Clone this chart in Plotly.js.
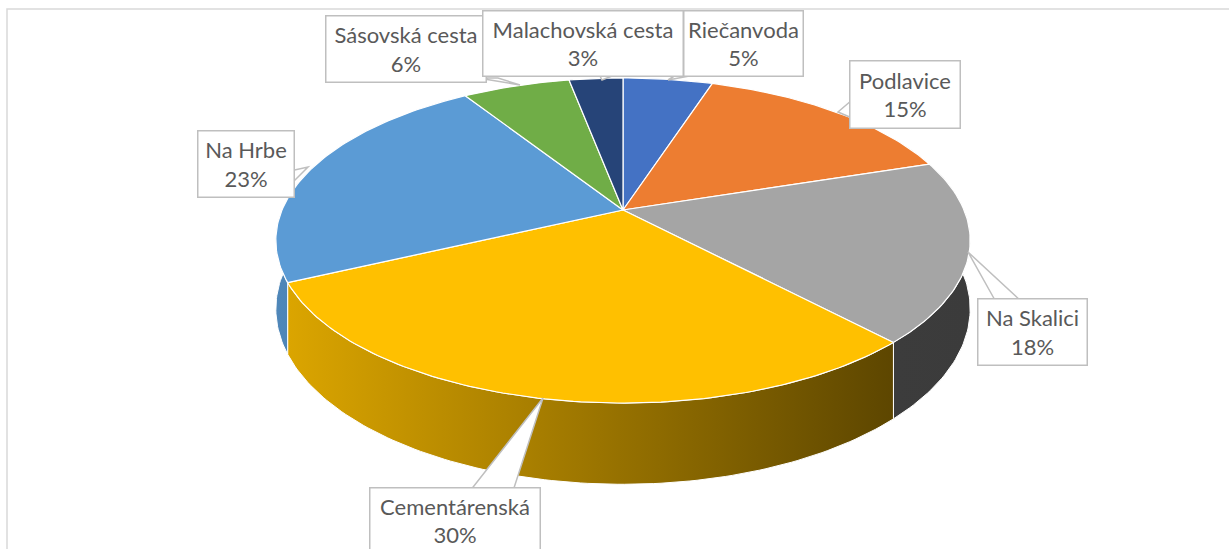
<!DOCTYPE html>
<html>
<head>
<meta charset="utf-8">
<script src="https://cdn.plot.ly/plotly-3.0.1.min.js"></script>
<style>html,body{margin:0;padding:0;background:#fff;}#chart{width:1229px;height:549px;}</style>
</head>
<body>
<div id="chart"></div>
<script>
// ---- data ----
const labels = ['Riečanvoda','Podlavice','Na Skalici','Cementárenská','Na Hrbe','Sásovská cesta','Malachovská cesta'];
const values = [5, 15, 18, 30, 23, 6, 3];
const colors = ['#4472C4','#ED7D31','#A5A5A5','#FFC000','#5B9BD5','#70AD47','#264478'];

// ---- 3D pie geometry (pixel space) ----
const CX = 623, CY = 210, RX = 341, RY = 156.8, P = 0.1877, DEPTH = 66;
function proj(deg, drop) {
  const t = deg * Math.PI / 180;
  const u = Math.sin(t), v = Math.cos(t);
  const s = 1 / (1 + P * v);
  return [CX + RX * u * s, CY - RY * v * s + drop * s];
}
function hexToRgb(h){h=h.replace('#','');return [parseInt(h.substr(0,2),16),parseInt(h.substr(2,2),16),parseInt(h.substr(4,2),16)];}
function shade(hex, f){const c=hexToRgb(hex);return 'rgb('+c.map(v=>Math.round(Math.min(255,v*f))).join(',')+')';}
function lightAt(x){const f=0.87-(x-275)/(900-275)*0.51;return Math.max(0.36,Math.min(0.9,f));}

const total = values.reduce((a,b)=>a+b,0);
const sideTraces = [], topTraces = [];
let cum = 0;
values.forEach((val, i) => {
  const a0 = cum / total * 360, a1 = (cum + val) / total * 360;
  cum += val;
  const pct = Math.round(val / total * 100) + '%';
  // top face
  const tx = [CX], ty = [CY];
  const n = Math.max(2, Math.ceil(a1 - a0));
  for (let k = 0; k <= n; k++) { const p = proj(a0 + (a1 - a0) * k / n, 0); tx.push(p[0]); ty.push(p[1]); }
  tx.push(CX); ty.push(CY);
  topTraces.push({type:'scatter', mode:'lines', x:tx, y:ty, fill:'toself', fillcolor:colors[i],
    line:{color:'#ffffff', width:1.2}, name:labels[i], text:labels[i]+' '+pct, hoverinfo:'text', showlegend:false});
  // side wall (front part)
  const s0 = Math.max(a0, 60), s1 = Math.min(a1, 300);
  if (s1 > s0) {
    const sx = [], sy = [];
    const m = Math.max(2, Math.ceil(s1 - s0));
    for (let k = 0; k <= m; k++) { const p = proj(s0 + (s1 - s0) * k / m, 0); sx.push(p[0]); sy.push(p[1]); }
    for (let k = m; k >= 0; k--) { const p = proj(s0 + (s1 - s0) * k / m, DEPTH); sx.push(p[0]); sy.push(p[1]); }
    sx.push(sx[0]); sy.push(sy[0]);
    const xmin = Math.min(...sx), xmax = Math.max(...sx);
    sideTraces.push({type:'scatter', mode:'lines', x:sx, y:sy, fill:'toself',
      fillcolor: shade(colors[i], lightAt((xmin+xmax)/2)),
      fillgradient:{type:'horizontal', colorscale:[[0, shade(colors[i], lightAt(xmin))],[1, shade(colors[i], lightAt(xmax))]]},
      line:{color:'#ffffff', width:1}, text:labels[i]+' '+pct, hoverinfo:'text', showlegend:false});
  }
});

// ---- callout labels (box center, size, wedge base points, tip) ----
const callouts = [
  {cx:743,   cy:43,    w:120, h:66, b:[[684,70],[700,74]], tip:[668,80]},
  {cx:904.5, cy:94,    w:111, h:68, b:[[852,100],[852,118]], tip:[838,112]},
  {cx:1032,  cy:331.5, w:110, h:67, b:[[996,302],[1022,302]], tip:[968,252]},
  {cx:454.5, cy:520,   w:171, h:66, b:[[470,491],[513,491]], tip:[543,398]},
  {cx:245.5, cy:163.5, w:97,  h:67, b:[[290,171],[290,185]], tip:[308,167]},
  {cx:405.5, cy:48.5,  w:161, h:67, b:[[478,78],[498,78]], tip:[520,85]},
  {cx:582.5, cy:43,    w:201, h:66, b:[[598,72],[622,72]], tip:[602,80]}
];
const shapes = [{type:'rect', xref:'x', yref:'y', x0:7, y0:9, x1:1240, y1:560,
  line:{color:'#D9D9D9', width:1.5}, fillcolor:'rgba(0,0,0,0)', layer:'below'}];
const annotations = [];
callouts.forEach((c, i) => {
  const pct = Math.round(values[i] / total * 100) + '%';
  shapes.push({type:'path', xref:'x', yref:'y', layer:'above',
    path:'M'+c.b[0][0]+','+c.b[0][1]+' L'+c.tip[0]+','+c.tip[1]+' L'+c.b[1][0]+','+c.b[1][1]+' Z',
    fillcolor:'#ffffff', line:{color:'#BFBFBF', width:1.5}});
  annotations.push({xref:'x', yref:'y', x:c.cx, y:c.cy, xanchor:'center', yanchor:'middle',
    text: labels[i] + '<br>' + pct, showarrow:false, width:c.w-2, height:c.h-2, borderpad:0,
    bgcolor:'#ffffff', bordercolor:'#BFBFBF', borderwidth:1.5, align:'center', valign:'middle',
    font:{family:'Lato, "Open Sans", sans-serif', size:22, color:'#595959'}});
});

const layout = {
  width:1229, height:549, margin:{l:0,r:0,t:0,b:0},
  paper_bgcolor:'#ffffff', plot_bgcolor:'#ffffff',
  xaxis:{range:[0,1229], visible:false, fixedrange:true},
  yaxis:{range:[549,0], visible:false, fixedrange:true},
  shapes:shapes, annotations:annotations, showlegend:false
};
Plotly.newPlot('chart', sideTraces.concat(topTraces), layout, {displayModeBar:false, staticPlot:true});
</script>
</body>
</html>
